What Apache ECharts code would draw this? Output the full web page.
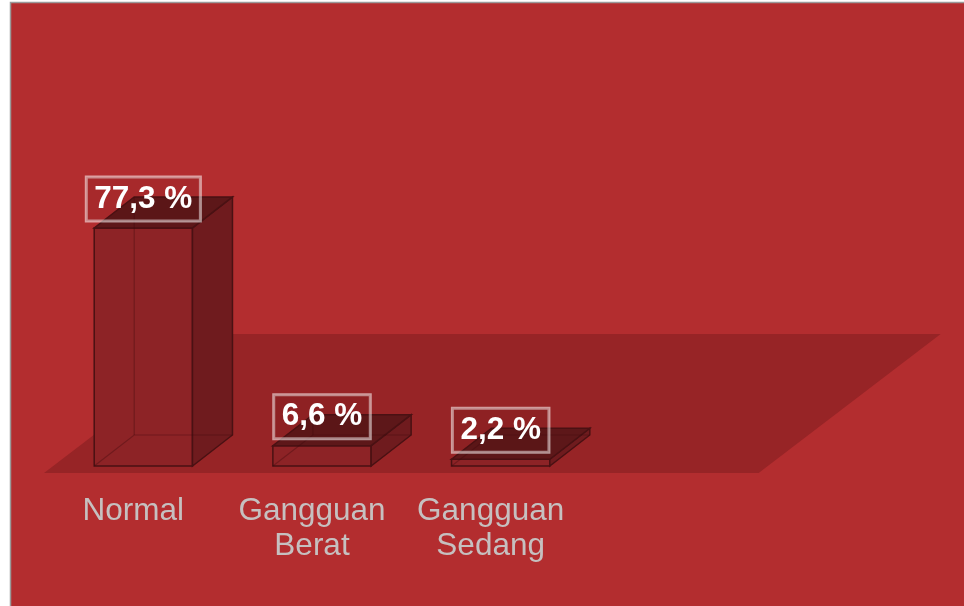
<!DOCTYPE html>
<html>
<head>
<meta charset="utf-8">
<script src="https://cdn.jsdelivr.net/npm/echarts@6/dist/echarts.min.js"></script>
<style>
html,body{margin:0;padding:0;background:#fff;}
#chart{width:964px;height:606px;}
</style>
</head>
<body>
<div id="chart"></div>
<script>
const categories = ['Normal', 'Gangguan\nBerat', 'Gangguan\nSedang'];
const values = [77.3, 6.6, 2.2];
const valueLabels = ['77,3 %', '6,6 %', '2,2 %'];

const chart = echarts.init(document.getElementById('chart'), null, {renderer: 'canvas'});

function renderFloor(params, api) {
  const cs = params.coordSys;
  const zeroY = cs.y + cs.height;
  const fy = zeroY + 7;
  const by = fy - 139;
  const lx = cs.x;
  const rx = cs.x + cs.width * 4 / 3;
  const sh = 182;
  return {
    type: 'polygon',
    shape: {points: [[lx, fy], [rx, fy], [rx + sh, by], [lx + sh, by]]},
    style: {fill: '#972426'}
  };
}

function renderBar(params, api) {
  const i = api.value(0);
  const v = api.value(1);
  const base = api.coord([i, 0]);
  const top = api.coord([i, v]);
  const band = api.size([1, 0])[0];
  const w = band * 0.55;
  const off = band * 0.056;
  const dx = 40, dy = 31;
  const xl = base[0] + off - w / 2;
  const xr = xl + w;
  const yb = base[1];
  const yt = top[1];
  const edge = '#4a1113';
  const hidden = 'rgba(60,10,12,0.35)';
  return {
    type: 'group',
    children: [
      {type: 'polygon', shape: {points: [[xl, yt], [xr, yt], [xr, yb], [xl, yb]]},
        style: {fill: '#8d2326', stroke: edge, lineWidth: 1.5}},
      {type: 'polygon', shape: {points: [[xr, yt], [xr + dx, yt - dy], [xr + dx, yb - dy], [xr, yb]]},
        style: {fill: '#6f1b1e', stroke: edge, lineWidth: 1.5}},
      {type: 'polygon', shape: {points: [[xl, yt], [xr, yt], [xr + dx, yt - dy], [xl + dx, yt - dy]]},
        style: {fill: '#5d1719', stroke: edge, lineWidth: 1.5}},
      {type: 'polyline', shape: {points: [[xl, yb], [xl + dx, yb - dy], [xr + dx, yb - dy]]},
        style: {fill: null, stroke: hidden, lineWidth: 1.2}},
      {type: 'line', shape: {x1: xl + dx, y1: yb - dy, x2: xl + dx, y2: yt - dy},
        style: {stroke: hidden, lineWidth: 1.2}},
      {type: 'text', x: (xl + xr) / 2, y: yt - dy + 2,
        style: {
          text: valueLabels[params.dataIndex],
          fill: '#ffffff',
          font: 'bold 31.5px "Liberation Sans", Arial, sans-serif',
          align: 'center', verticalAlign: 'middle',
          lineHeight: 32,
          padding: [6, 8, 6, 8],
          borderColor: 'rgba(255,255,255,0.55)',
          borderWidth: 1.5,
          backgroundColor: 'rgba(80,15,18,0.12)'
        }}
    ]
  };
}

const option = {
  backgroundColor: '#ffffff',
  animation: false,
  graphic: [
    {type: 'rect', shape: {x: 11, y: 3, width: 953, height: 603}, style: {fill: '#b32d2f'}, z: -10, silent: true},
    {type: 'polyline', shape: {points: [[10.5, 606], [10.5, 2.5], [964, 2.5]]}, style: {stroke: '#9a9a9a', lineWidth: 1.5, fill: null}, z: -9, silent: true}
  ],
  grid: {left: 44, right: 384, top: 158, bottom: 140, containLabel: false},
  xAxis: {
    type: 'category',
    data: categories,
    axisLine: {show: false},
    axisTick: {show: false},
    splitLine: {show: false},
    axisLabel: {
      interval: 0,
      color: '#c6c0c0',
      fontSize: 31.5,
      fontFamily: '"Liberation Sans", Arial, sans-serif',
      lineHeight: 35,
      margin: 28
    }
  },
  yAxis: {type: 'value', min: 0, max: 100, show: false},
  series: [
    {type: 'custom', renderItem: renderFloor, data: [[0, 0]], clip: false, z: 1, silent: true},
    {type: 'custom', renderItem: renderBar, data: values.map((v, i) => [i, v]), clip: false, z: 2,
      encode: {x: 0, y: 1}}
  ]
};
chart.setOption(option);
</script>
</body>
</html>
